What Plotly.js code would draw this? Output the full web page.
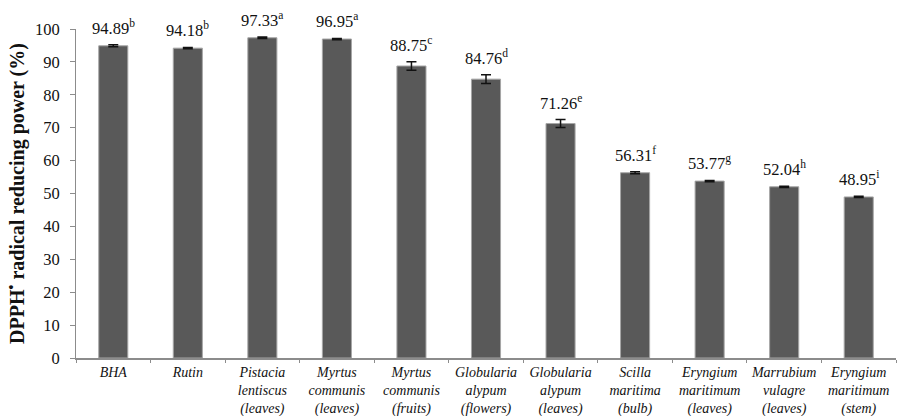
<!DOCTYPE html>
<html>
<head>
<meta charset="utf-8">
<script src="https://cdn.plot.ly/plotly-3.0.1.min.js"></script>
<style>
  html, body { margin: 0; padding: 0; background: #ffffff; }
  #chart { width: 897px; height: 416px; }
</style>
</head>
<body>
<div id="chart"></div>
<script>
// Samples (plant extracts and reference antioxidants)
const categories = [
  "BHA",
  "Rutin",
  "Pistacia<br>lentiscus<br>(leaves)",
  "Myrtus<br>communis<br>(leaves)",
  "Myrtus<br>communis<br>(fruits)",
  "Globularia<br>alypum<br>(flowers)",
  "Globularia<br>alypum<br>(leaves)",
  "Scilla<br>maritima<br>(bulb)",
  "Eryngium<br>maritimum<br>(leaves)",
  "Marrubium<br>vulagre<br>(leaves)",
  "Eryngium<br>maritimum<br>(stem)"
];

// Mean DPPH radical reducing power (%)
const values = [94.89, 94.18, 97.33, 96.95, 88.75, 84.76, 71.26, 56.31, 53.77, 52.04, 48.95];

// Standard deviations
const errors = [0.3, 0.2, 0.25, 0.2, 1.3, 1.3, 1.2, 0.3, 0.2, 0.2, 0.2];

// Significance letters
const letters = ["b", "b", "a", "a", "c", "d", "e", "f", "g", "h", "i"];

const serif = "Liberation Serif";

const trace = {
  type: "bar",
  x: categories,
  y: values,
  marker: {
    color: "#595959",
    line: { color: "#a6a6a6", width: 1 }
  },
  error_y: {
    type: "data",
    array: errors,
    visible: true,
    color: "#111111",
    thickness: 1.5,
    width: 5
  },
  hoverinfo: "skip"
};

const annotations = categories.map((c, i) => ({
  x: c,
  y: values[i] + errors[i],
  xref: "x",
  yref: "y",
  text: values[i].toFixed(2) + "<sup>" + letters[i] + "</sup>",
  showarrow: false,
  yanchor: "bottom",
  yshift: 5,
  font: { family: serif, size: 16.5, color: "#111111" }
}));

const layout = {
  width: 897,
  height: 416,
  margin: { l: 76, r: 1, t: 29, b: 58 },
  paper_bgcolor: "#ffffff",
  plot_bgcolor: "#ffffff",
  font: { family: serif, color: "#111111" },
  showlegend: false,
  bargap: 0.61,
  xaxis: {
    type: "category",
    showline: true,
    linecolor: "#8c8c8c",
    linewidth: 2,
    ticks: "outside",
    tickson: "boundaries",
    ticklen: 3,
    tickcolor: "#8c8c8c",
    tickangle: 0,
    tickfont: { family: serif, size: 14, color: "#111111", style: "italic" },
    showgrid: false,
    zeroline: false,
    fixedrange: true
  },
  yaxis: {
    range: [0, 100],
    dtick: 10,
    tick0: 0,
    showline: true,
    linecolor: "#8c8c8c",
    linewidth: 1,
    ticks: "outside",
    ticklen: 5,
    tickcolor: "#8c8c8c",
    ticklabelstandoff: 7,
    showgrid: false,
    zeroline: false,
    tickfont: { family: serif, size: 16.5, color: "#111111" },
    title: {
      text: "DPPH<sup>•</sup> radical reducing power (%)",
      font: { family: serif, size: 20, color: "#111111", weight: "bold" },
      standoff: 4
    },
    fixedrange: true
  },
  annotations: annotations
};

Plotly.newPlot("chart", [trace], layout, { displayModeBar: false, staticPlot: true });
</script>
</body>
</html>
